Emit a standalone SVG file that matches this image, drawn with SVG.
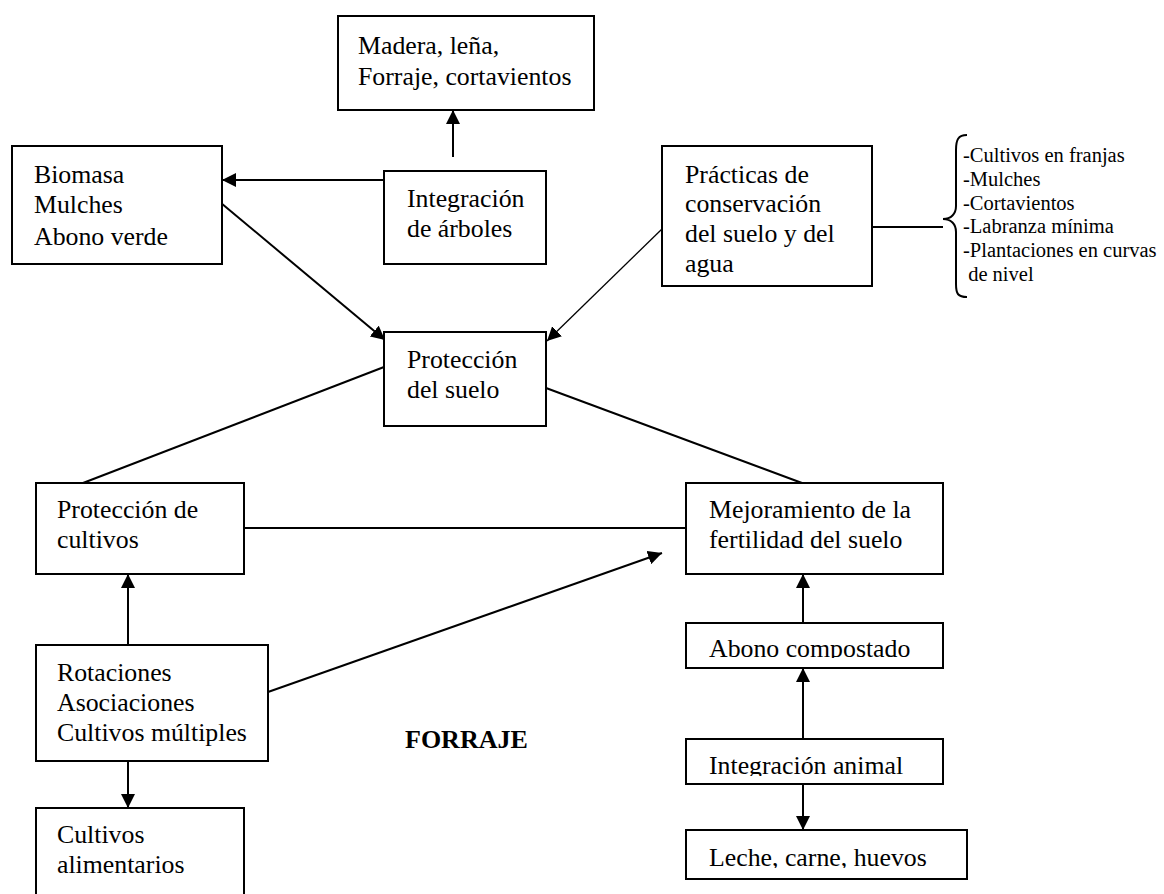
<svg xmlns="http://www.w3.org/2000/svg" width="1164" height="894" viewBox="0 0 1164 894">
<style>
.box{fill:#fff;stroke:#000;stroke-width:2}
.t{font-family:"Liberation Serif","Times New Roman",serif;font-size:25.8px;fill:#000}
.s{font-family:"Liberation Serif","Times New Roman",serif;font-size:20.5px;fill:#000}
.b{font-family:"Liberation Serif","Times New Roman",serif;font-size:26px;font-weight:bold;fill:#000}
.c{fill:none;stroke:#000;stroke-width:2}
.thin{fill:none;stroke:#000;stroke-width:1.3}
</style>
<defs>
<marker id="ah" viewBox="0 0 14 14" refX="14" refY="7" markerWidth="14" markerHeight="14" markerUnits="userSpaceOnUse" orient="auto">
<path d="M0,0 L14,7 L0,14 z" fill="#000"/>
</marker>
<clipPath id="clipAbono"><rect x="686" y="623" width="257" height="35"/></clipPath>
<clipPath id="clipInteg"><rect x="686" y="739" width="257" height="37"/></clipPath>
<clipPath id="clipLeche"><rect x="686" y="830" width="281" height="38"/></clipPath>
</defs>
<rect width="1164" height="894" fill="#fff"/>

<g id="connectors">
<line class="c" x1="453" y1="157" x2="453" y2="110" marker-end="url(#ah)"/>
<line class="c" x1="384" y1="180" x2="222" y2="180" marker-end="url(#ah)"/>
<line class="c" x1="221" y1="203" x2="385" y2="340" marker-end="url(#ah)"/>
<line class="thin" x1="663" y1="228" x2="547" y2="341" marker-end="url(#ah)"/>
<line class="c" x1="872" y1="227" x2="943" y2="227"/>
<path class="c" d="M967,135 C958,135 956,140 956,150 L956,206 C956,214 951,219 943,219 C951,219 956,224 956,232 L956,284 C956,294 958,297 967,297"/>
<line class="c" x1="384" y1="367" x2="83" y2="483"/>
<line class="c" x1="546" y1="388" x2="802" y2="483"/>
<line class="c" x1="244" y1="528" x2="686" y2="528"/>
<line class="c" x1="128" y1="645" x2="128" y2="574" marker-end="url(#ah)"/>
<line class="c" x1="268" y1="692" x2="662" y2="553" marker-end="url(#ah)"/>
<line class="c" x1="128" y1="761" x2="128" y2="808" marker-end="url(#ah)"/>
<line class="c" x1="803" y1="623" x2="803" y2="574" marker-end="url(#ah)"/>
<line class="c" x1="803" y1="739" x2="803" y2="668" marker-end="url(#ah)"/>
<line class="c" x1="803" y1="784" x2="803" y2="830" marker-end="url(#ah)"/>
</g>

<g id="madera">
<rect class="box" x="338" y="16" width="256" height="94"/>
<text class="t"><tspan x="358" y="54">Madera, leña,</tspan><tspan x="358" y="85">Forraje, cortavientos</tspan></text>
</g>

<g id="biomasa">
<rect class="box" x="12" y="146" width="210" height="118"/>
<text class="t"><tspan x="34" y="183">Biomasa</tspan><tspan x="34" y="213">Mulches</tspan><tspan x="34" y="245">Abono verde</tspan></text>
</g>

<g id="integracion-arboles">
<rect class="box" x="384" y="171" width="162" height="93"/>
<text class="t"><tspan x="407" y="207">Integración</tspan><tspan x="407" y="237">de árboles</tspan></text>
</g>

<g id="practicas">
<rect class="box" x="662" y="146" width="210" height="140"/>
<text class="t"><tspan x="685" y="183">Prácticas de</tspan><tspan x="685" y="212">conservación</tspan><tspan x="685" y="242">del suelo y del</tspan><tspan x="685" y="272">agua</tspan></text>
</g>

<g id="lista-practicas">
<text class="s"><tspan x="963" y="162">-Cultivos en franjas</tspan><tspan x="963" y="186">-Mulches</tspan><tspan x="963" y="210">-Cortavientos</tspan><tspan x="963" y="233">-Labranza mínima</tspan><tspan x="963" y="257">-Plantaciones en curvas</tspan><tspan x="963" y="281"> de nivel</tspan></text>
</g>

<g id="proteccion-suelo">
<rect class="box" x="384" y="332" width="162" height="94"/>
<text class="t"><tspan x="407" y="368">Protección</tspan><tspan x="407" y="398">del suelo</tspan></text>
</g>

<g id="proteccion-cultivos">
<rect class="box" x="36" y="483" width="208" height="91"/>
<text class="t"><tspan x="57" y="518">Protección de</tspan><tspan x="57" y="548">cultivos</tspan></text>
</g>

<g id="mejoramiento">
<rect class="box" x="686" y="483" width="257" height="91"/>
<text class="t"><tspan x="709" y="518">Mejoramiento de la</tspan><tspan x="709" y="548">fertilidad del suelo</tspan></text>
</g>

<g id="rotaciones">
<rect class="box" x="36" y="645" width="232" height="116"/>
<text class="t"><tspan x="57" y="681">Rotaciones</tspan><tspan x="57" y="711">Asociaciones</tspan><tspan x="57" y="741">Cultivos múltiples</tspan></text>
</g>

<g id="cultivos-alimentarios">
<rect class="box" x="36" y="808" width="208" height="100"/>
<text class="t"><tspan x="57" y="843">Cultivos</tspan><tspan x="57" y="873">alimentarios</tspan></text>
</g>

<g id="forraje">
<text class="b" x="405" y="748">FORRAJE</text>
</g>

<g id="abono-compostado">
<rect class="box" x="686" y="623" width="257" height="45"/>
<text class="t" x="709" y="657" clip-path="url(#clipAbono)">Abono compostado</text>
</g>

<g id="integracion-animal">
<rect class="box" x="686" y="739" width="257" height="45"/>
<text class="t" x="709" y="774" clip-path="url(#clipInteg)">Integración animal</text>
</g>

<g id="leche">
<rect class="box" x="686" y="830" width="281" height="49"/>
<text class="t" x="709" y="866" clip-path="url(#clipLeche)">Leche, carne, huevos</text>
</g>
</svg>
